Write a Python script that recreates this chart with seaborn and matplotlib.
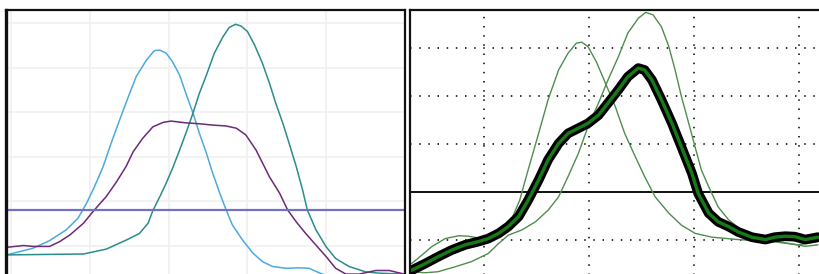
import numpy as np
import pandas as pd
import matplotlib
matplotlib.use("Agg")
import matplotlib.pyplot as plt
import seaborn as sns

sns.set_style("white")

# ---------------- Left panel data ----------------
blue_x = [-0.055, 0.28, 0.49, 0.70, 0.85, 0.96, 1.06, 1.17, 1.27, 1.38, 1.49, 1.59, 1.72, 1.82, 1.89, 1.97,
          2.05, 2.14, 2.22, 2.31, 2.39, 2.48, 2.56, 2.65, 2.73, 2.81, 2.94, 3.07, 3.19, 3.32, 3.49, 3.66,
          3.78, 3.95, 4.30]
blue_y = [-0.20, -0.05, 0.12, 0.36, 0.62, 0.96, 1.33, 1.78, 2.30, 2.83, 3.35, 3.80, 4.17, 4.38, 4.39, 4.32,
          4.13, 3.83, 3.42, 2.98, 2.53, 2.08, 1.63, 1.18, 0.81, 0.47, 0.13, -0.16, -0.35, -0.46, -0.50, -0.49,
          -0.50, -0.63, -0.80]

teal_x = [-0.055, 0.92, 1.21, 1.46, 1.63, 1.74, 1.80, 1.89, 1.97, 2.05, 2.14, 2.22, 2.31, 2.39, 2.48, 2.58,
          2.69, 2.77, 2.85, 2.92, 3.00, 3.09, 3.19, 3.28, 3.36, 3.45, 3.53, 3.62, 3.70, 3.76, 3.87, 4.00,
          4.12, 4.29, 4.50, 4.67, 4.99]
teal_y = [-0.20, -0.18, -0.07, 0.13, 0.28, 0.51, 0.79, 1.11, 1.41, 1.74, 2.15, 2.53, 2.98, 3.42, 3.83, 4.32,
          4.69, 4.90, 4.97, 4.93, 4.81, 4.51, 4.10, 3.65, 3.20, 2.75, 2.30, 1.78, 1.26, 0.81, 0.36, -0.02,
          -0.28, -0.46, -0.58, -0.61, -0.63]

purple_x = [-0.055, 0.16, 0.28, 0.49, 0.62, 0.75, 0.92, 1.04, 1.21, 1.34, 1.46, 1.55, 1.67, 1.80, 1.93, 2.03,
            2.22, 2.39, 2.56, 2.73, 2.86, 2.98, 3.11, 3.28, 3.41, 3.51, 3.62, 3.74, 3.87, 4.00, 4.12, 4.25,
            4.42, 4.63, 4.80, 4.99]
purple_y = [-0.03, 0.01, -0.01, -0.01, 0.10, 0.25, 0.51, 0.77, 1.11, 1.44, 1.78, 2.11, 2.41, 2.67, 2.77, 2.80,
            2.76, 2.74, 2.71, 2.69, 2.64, 2.49, 2.15, 1.55, 1.18, 0.81, 0.54, 0.28, 0.02, -0.24, -0.50, -0.63,
            -0.63, -0.55, -0.55, -0.63]

left_hline = 0.81

# ---------------- Right panel data ----------------
thinA_x = [0.31, 0.41, 0.50, 0.63, 0.76, 0.85, 0.93, 1.04, 1.17, 1.26, 1.34, 1.42, 1.52, 1.61, 1.71, 1.80,
           1.88, 1.93, 1.99, 2.07, 2.15, 2.25, 2.34, 2.44, 2.53, 2.63, 2.76, 2.88, 3.01, 3.17, 3.42, 3.74,
           3.99, 4.18]
thinA_y = [-0.49, -0.31, -0.14, 0.03, 0.09, 0.08, 0.05, 0.00, 0.10, 0.42, 0.83, 1.46, 2.22, 2.92, 3.54, 3.89,
           4.10, 4.12, 4.03, 3.71, 3.30, 2.78, 2.22, 1.74, 1.32, 0.90, 0.56, 0.31, 0.14, 0.06, 0.01, -0.03,
           -0.10, -0.03]

thinB_x = [0.31, 0.44, 0.56, 0.72, 0.88, 1.04, 1.14, 1.23, 1.36, 1.49, 1.61, 1.71, 1.80, 1.90, 1.99, 2.09,
           2.18, 2.28, 2.37, 2.47, 2.54, 2.61, 2.69, 2.76, 2.82, 2.88, 2.95, 3.01, 3.07, 3.14, 3.23, 3.33,
           3.45, 3.61, 3.80, 4.06, 4.18]
thinB_y = [-0.66, -0.68, -0.66, -0.56, -0.45, -0.28, -0.07, 0.10, 0.21, 0.38, 0.62, 0.90, 1.32, 1.81, 2.36, 2.85,
           3.33, 3.82, 4.31, 4.62, 4.74, 4.69, 4.44, 4.03, 3.54, 2.99, 2.43, 1.94, 1.46, 1.11, 0.69, 0.42,
           0.21, 0.03, -0.03, -0.13, -0.10]

thick_x = [0.31, 0.44, 0.56, 0.69, 0.82, 0.95, 1.04, 1.14, 1.23, 1.33, 1.42, 1.52, 1.61, 1.71, 1.80, 1.90,
           1.99, 2.09, 2.18, 2.28, 2.37, 2.47, 2.53, 2.60, 2.69, 2.79, 2.88, 2.98, 3.04, 3.14, 3.23, 3.33,
           3.42, 3.55, 3.68, 3.77, 3.87, 3.96, 4.06, 4.18]
thick_y = [-0.63, -0.49, -0.35, -0.21, -0.10, -0.03, 0.03, 0.14, 0.28, 0.49, 0.83, 1.25, 1.67, 2.01, 2.22, 2.33,
           2.43, 2.60, 2.85, 3.13, 3.40, 3.58, 3.54, 3.33, 2.92, 2.43, 1.94, 1.39, 0.97, 0.56, 0.38, 0.28,
           0.17, 0.06, 0.01, 0.06, 0.08, 0.07, 0.01, 0.06]

right_hline = 1.0

W, H = 819, 274
fig = plt.figure(figsize=(W / 100, H / 100), dpi=100)

def frac_box(x0, x1, ytop, ybot):
    return [x0 / W, 1 - ybot / H, (x1 - x0) / W, (ybot - ytop) / H]

def draw(ax, xs, ys, color, lw, **kw):
    df = pd.DataFrame({"x": xs, "y": ys})
    sns.lineplot(data=df, x="x", y="y", ax=ax, sort=False, color=color, lw=lw,
                 solid_joinstyle="round", solid_capstyle="round", **kw)

# ---------------- Left axes ----------------
axL = fig.add_axes(frac_box(6, 405, 10, 290))
axL.set_facecolor("white")
axL.set_xlim(-0.063, 4.987)
axL.set_ylim(-0.987, 5.29)
axL.set_xticks(range(0, 6))
axL.set_yticks(range(0, 6))
axL.grid(True, color="#f0f0f0", lw=1.2)
axL.set_axisbelow(True)
axL.tick_params(left=False, bottom=False, labelleft=False, labelbottom=False)

draw(axL, blue_x, blue_y, "#4caadd", 1.1)
draw(axL, teal_x, teal_y, "#2a8d8a", 1.1)
draw(axL, purple_x, purple_y, "#6c2a7a", 1.1)
axL.axhline(left_hline, color="#7272c2", lw=1.6)
for side, sp in axL.spines.items():
    sp.set_color("#111111")
    sp.set_linewidth(1.6)
axL.spines["left"].set_linewidth(2.4)
axL.set_xlabel("")
axL.set_ylabel("")

# ---------------- Right axes ----------------
axR = fig.add_axes(frac_box(410, 860, 10, 290))
axR.set_facecolor("white")
axR.set_xlim(0.295, 4.581)
axR.set_ylim(-1.04, 4.79)
axR.set_xticks(range(1, 5))
axR.set_yticks(range(0, 5))
axR.grid(True, color="#111111", lw=1.2, linestyle=(0, (0.9, 4.6)))
axR.set_axisbelow(True)
axR.tick_params(left=False, bottom=False, labelleft=False, labelbottom=False)

axR.axhline(right_hline, color="#111111", lw=1.4)
draw(axR, thinA_x, thinA_y, "#4f8d4f", 1.0)
draw(axR, thinB_x, thinB_y, "#4f8d4f", 1.0)
draw(axR, thick_x, thick_y, "#000000", 7.0)
draw(axR, thick_x, thick_y, "#167a16", 2.4)
for side, sp in axR.spines.items():
    sp.set_color("#111111")
    sp.set_linewidth(1.6)
axR.set_xlabel("")
axR.set_ylabel("")

fig.savefig("out.png", dpi=100)
